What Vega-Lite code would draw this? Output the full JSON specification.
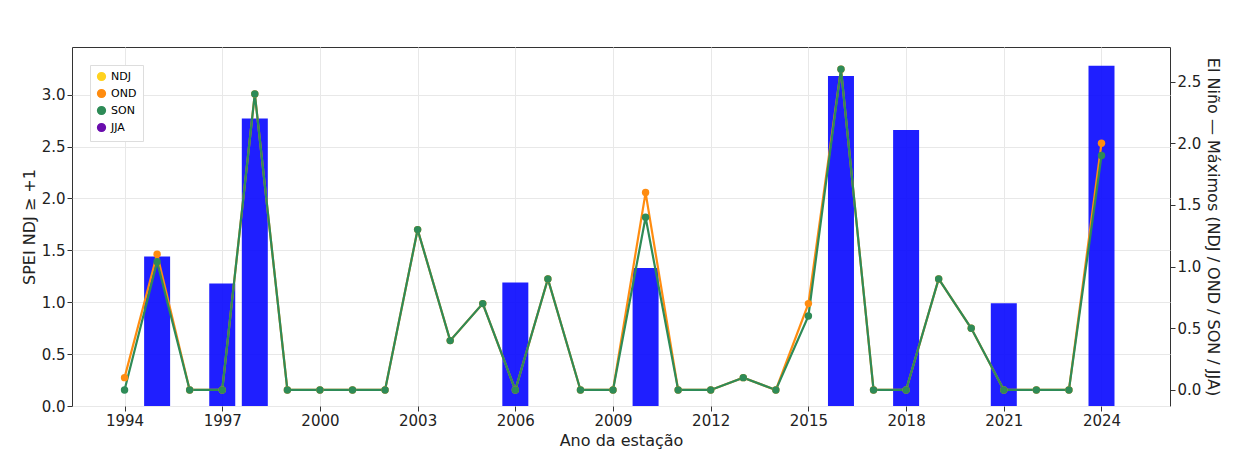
{
  "$schema": "https://vega.github.io/schema/vega-lite/v6.json",
  "width": 1098,
  "height": 359,
  "autosize": {"type": "none"},
  "padding": {"left": 72, "top": 47, "right": 64, "bottom": 52},
  "background": "white",
  "config": {
    "view": {"stroke": "#333", "strokeWidth": 1},
    "font": "DejaVu Sans",
    "axis": {"labelFontSize": 15, "titleFontSize": 16, "titleFontWeight": "normal", "labelColor": "#222", "titleColor": "#222", "gridColor": "#e8e8e8", "tickColor": "#333", "domain": false}
  },
  "datasets": {
    "spei": [
      {"ano": 1995, "spei": 1.44}, {"ano": 1997, "spei": 1.18}, {"ano": 1998, "spei": 2.77},
      {"ano": 2006, "spei": 1.19}, {"ano": 2010, "spei": 1.33}, {"ano": 2016, "spei": 3.18},
      {"ano": 2018, "spei": 2.66}, {"ano": 2021, "spei": 0.99}, {"ano": 2024, "spei": 3.28}
    ],
    "nino": [
      {"ano": 1994, "s": "OND", "v": 0.1}, {"ano": 1995, "s": "OND", "v": 1.1}, {"ano": 1996, "s": "OND", "v": 0},
      {"ano": 1997, "s": "OND", "v": 0}, {"ano": 1998, "s": "OND", "v": 2.4}, {"ano": 1999, "s": "OND", "v": 0},
      {"ano": 2000, "s": "OND", "v": 0}, {"ano": 2001, "s": "OND", "v": 0}, {"ano": 2002, "s": "OND", "v": 0},
      {"ano": 2003, "s": "OND", "v": 1.3}, {"ano": 2004, "s": "OND", "v": 0.4}, {"ano": 2005, "s": "OND", "v": 0.7},
      {"ano": 2006, "s": "OND", "v": 0}, {"ano": 2007, "s": "OND", "v": 0.9}, {"ano": 2008, "s": "OND", "v": 0},
      {"ano": 2009, "s": "OND", "v": 0}, {"ano": 2010, "s": "OND", "v": 1.6}, {"ano": 2011, "s": "OND", "v": 0},
      {"ano": 2012, "s": "OND", "v": 0}, {"ano": 2013, "s": "OND", "v": 0.1}, {"ano": 2014, "s": "OND", "v": 0},
      {"ano": 2015, "s": "OND", "v": 0.7}, {"ano": 2016, "s": "OND", "v": 2.6}, {"ano": 2017, "s": "OND", "v": 0},
      {"ano": 2018, "s": "OND", "v": 0}, {"ano": 2019, "s": "OND", "v": 0.9}, {"ano": 2020, "s": "OND", "v": 0.5},
      {"ano": 2021, "s": "OND", "v": 0}, {"ano": 2022, "s": "OND", "v": 0}, {"ano": 2023, "s": "OND", "v": 0},
      {"ano": 2024, "s": "OND", "v": 2.0},
      {"ano": 1994, "s": "SON", "v": 0}, {"ano": 1995, "s": "SON", "v": 1.04}, {"ano": 1996, "s": "SON", "v": 0},
      {"ano": 1997, "s": "SON", "v": 0}, {"ano": 1998, "s": "SON", "v": 2.4}, {"ano": 1999, "s": "SON", "v": 0},
      {"ano": 2000, "s": "SON", "v": 0}, {"ano": 2001, "s": "SON", "v": 0}, {"ano": 2002, "s": "SON", "v": 0},
      {"ano": 2003, "s": "SON", "v": 1.3}, {"ano": 2004, "s": "SON", "v": 0.4}, {"ano": 2005, "s": "SON", "v": 0.7},
      {"ano": 2006, "s": "SON", "v": 0}, {"ano": 2007, "s": "SON", "v": 0.9}, {"ano": 2008, "s": "SON", "v": 0},
      {"ano": 2009, "s": "SON", "v": 0}, {"ano": 2010, "s": "SON", "v": 1.4}, {"ano": 2011, "s": "SON", "v": 0},
      {"ano": 2012, "s": "SON", "v": 0}, {"ano": 2013, "s": "SON", "v": 0.1}, {"ano": 2014, "s": "SON", "v": 0},
      {"ano": 2015, "s": "SON", "v": 0.6}, {"ano": 2016, "s": "SON", "v": 2.6}, {"ano": 2017, "s": "SON", "v": 0},
      {"ano": 2018, "s": "SON", "v": 0}, {"ano": 2019, "s": "SON", "v": 0.9}, {"ano": 2020, "s": "SON", "v": 0.5},
      {"ano": 2021, "s": "SON", "v": 0}, {"ano": 2022, "s": "SON", "v": 0}, {"ano": 2023, "s": "SON", "v": 0},
      {"ano": 2024, "s": "SON", "v": 1.9}
    ]
  },
  "encoding": {
    "x": {"field": "ano", "type": "quantitative", "title": "Ano da estação",
      "scale": {"domain": [1992.54, 2025.95], "nice": false, "zero": false},
      "axis": {"values": [1994, 1997, 2000, 2003, 2006, 2009, 2012, 2015, 2018, 2021, 2024], "format": "d", "titlePadding": 4}}
  },
  "layer": [
    {
      "data": {"name": "spei"},
      "mark": {"type": "bar", "width": 26, "color": "#0000ff", "opacity": 0.88},
      "encoding": {
        "y": {"field": "spei", "type": "quantitative", "title": "SPEI NDJ  ≥ +1",
          "scale": {"domain": [0, 3.46], "nice": false},
          "axis": {"values": [0, 0.5, 1, 1.5, 2, 2.5, 3], "format": ".1f", "orient": "left"}}
      }
    },
    {
      "data": {"name": "nino"},
      "mark": {"type": "line", "point": {"size": 55, "filled": true, "opacity": 1}, "strokeWidth": 2.2},
      "encoding": {
        "y": {"field": "v", "type": "quantitative", "title": "El Niño — Máximos (NDJ / OND / SON / JJA)",
          "scale": {"domain": [-0.13, 2.78], "nice": false},
          "axis": {"values": [0, 0.5, 1, 1.5, 2, 2.5], "format": ".1f", "orient": "right", "grid": false}},
        "color": {"field": "s", "type": "nominal",
          "scale": {"domain": ["NDJ", "OND", "SON", "JJA"], "range": ["#ffd21f", "#ff8c10", "#2e8b57", "#6a0dad"]},
          "legend": {"title": null, "orient": "top-left", "symbolType": "circle", "labelFontSize": 11, "fillColor": "white", "strokeColor": "#ddd", "padding": 6, "symbolSize": 60}},
        "order": {"field": "s", "sort": "ascending"}
      }
    }
  ],
  "resolve": {"scale": {"y": "independent"}}
}
